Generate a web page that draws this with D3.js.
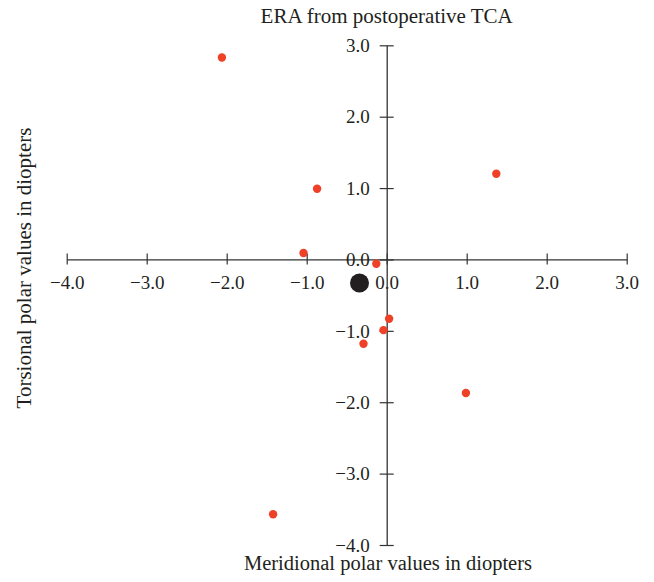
<!DOCTYPE html>
<html>
<head>
<meta charset="utf-8">
<script src="https://cdn.jsdelivr.net/npm/d3@7"></script>
<style>
  body { margin: 0; background: #fff; }
  svg text { font-family: "Liberation Serif", "Times New Roman", serif; fill: #231f20; }
  .tick text { font-size: 19px; }
</style>
</head>
<body>
<div id="container"></div>
<script>
// meridional (x) and torsional (y) polar values, in diopters
var meridional = [-2.06, -0.87, 1.37, -1.04, -0.13, 0.03, -0.04, -0.29, 0.99, -1.42];
var torsional  = [ 2.83,  0.99, 1.20,  0.09, -0.06, -0.83, -0.99, -1.18, -1.87, -3.57];
var meanPoint = [-0.34, -0.33];
var xTicks = [-4, -3, -2, -1, 0, 1, 2, 3];
var yTicks = [3, 2, 1, 0, -1, -2, -3, -4];

var width = 654, height = 582;

var svg = d3.select("#container").append("svg")
  .attr("width", width)
  .attr("height", height);

var xScale = d3.scaleLinear().domain([-4, 3]).range([66.7, 626.7]);
var yScale = d3.scaleLinear().domain([-4, 3]).range([545, 45.3]);

var fmt = function(d) { return d3.format(".1f")(d).replace("-", "\u2212"); };

// x axis through y = 0
var xAxis = d3.axisBottom(xScale).tickValues(xTicks).tickFormat(fmt).tickSizeInner(6).tickSizeOuter(0);
var gx = svg.append("g")
  .attr("transform", "translate(0," + yScale(0) + ")")
  .call(xAxis)
  .attr("font-family", null)
  .attr("font-size", null);
gx.select(".domain").attr("stroke", "#333").attr("stroke-width", 1.3);
gx.selectAll(".tick line").attr("y1", -6).attr("y2", 5).attr("stroke", "#333").attr("stroke-width", 1.2);
gx.selectAll(".tick text")
  .attr("y", 29.5).attr("dy", 0)
  .attr("fill", "#231f20");

// y axis through x = 0
var yAxis = d3.axisLeft(yScale).tickValues(yTicks).tickFormat(fmt).tickSizeInner(7).tickSizeOuter(0);
var gy = svg.append("g")
  .attr("transform", "translate(" + xScale(0) + ",0)")
  .call(yAxis)
  .attr("font-family", null)
  .attr("font-size", null);
gy.select(".domain").attr("stroke", "#333").attr("stroke-width", 1.3);
gy.selectAll(".tick line").attr("x1", -7).attr("x2", 7).attr("stroke", "#333").attr("stroke-width", 1.2);
gy.selectAll(".tick text")
  .attr("x", -17).attr("dy", "0.33em")
  .attr("fill", "#231f20");

// points
svg.append("g").selectAll("circle")
  .data(d3.range(meridional.length))
  .enter().append("circle")
  .attr("cx", function(i) { return xScale(meridional[i]); })
  .attr("cy", function(i) { return yScale(torsional[i]); })
  .attr("r", 4.2)
  .attr("fill", "#ee4127");

svg.append("circle")
  .attr("cx", xScale(meanPoint[0]))
  .attr("cy", yScale(meanPoint[1]))
  .attr("r", 9.5)
  .attr("fill", "#231f20");

// titles
svg.append("text")
  .attr("x", xScale(0)).attr("y", 23)
  .attr("text-anchor", "middle")
  .style("font-size", "21px")
  .text("ERA from postoperative TCA");

svg.append("text")
  .attr("x", 388).attr("y", 570)
  .attr("text-anchor", "middle")
  .style("font-size", "20.5px")
  .text("Meridional polar values in diopters");

svg.append("text")
  .attr("transform", "translate(31,268) rotate(-90)")
  .attr("text-anchor", "middle")
  .style("font-size", "21px")
  .text("Torsional polar values in diopters");
</script>
</body>
</html>
